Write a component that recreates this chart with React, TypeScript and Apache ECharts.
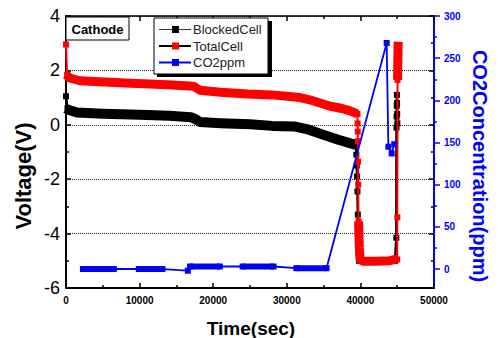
import React, { useEffect, useRef } from "react";
import * as echarts from "echarts";

const FONT = "Arial, 'Liberation Sans', Helvetica, sans-serif";
const BLUE = "#0000ff";
const RED = "#ff0000";
const BLACK = "#000000";

// Axis ranges
const timeMin = 0;
const timeMax = 50000;
const timeStep = 10000;
const voltMin = -6;
const voltMax = 4;
const voltStep = 2;
const co2Min = -22.5;
const co2Max = 300;
const co2MajorTicks = [0, 50, 100, 150, 200, 250, 300];
const co2MinorTicks = [25, 75, 125, 175, 225, 275];

// BlockedCell voltage (V) vs time (sec)
const blockedBandTime = [0, 300, 1500, 5000, 10000, 14000, 17000, 17600, 18200, 21000, 25000, 28000, 31000, 33000, 35000, 37000, 38500, 39400];
const blockedBandV = [0.6, 0.55, 0.45, 0.41, 0.37, 0.33, 0.28, 0.2, 0.1, 0.06, 0.02, -0.04, -0.06, -0.18, -0.37, -0.55, -0.67, -0.74];
const blockedStartTime = [0, 200];
const blockedStartV = [1.05, 0.6];
const blockedDropTime = [39400, 39450, 39500, 39550, 39600, 39650, 39700, 39750, 39800, 44700];
const blockedDropV = [-0.74, -1.1, -1.5, -1.9, -2.45, -3.3, -4.1, -4.7, -5.0, -5.0];
const blockedRiseTime = [44700, 44880, 44900, 44920, 44940, 44960, 44980, 45000, 45020];
const blockedRiseV = [-5.0, -4.15, -0.1, 0.3, 0.7, 1.1, 0.8, 0.4, 0.05];

// TotalCell voltage (V) vs time (sec)
const totalStartTime = [0, 150];
const totalStartV = [2.95, 1.84];
const totalBandTime = [0, 500, 1900, 4600, 8000, 11400, 14500, 17300, 18200, 21000, 24700, 28000, 31800, 33100, 35800, 37500, 38500, 39600];
const totalBandV = [1.84, 1.72, 1.62, 1.58, 1.54, 1.5, 1.46, 1.42, 1.27, 1.2, 1.13, 1.1, 1.0, 0.92, 0.69, 0.6, 0.52, 0.4];
const totalDropTime = [39600, 39620, 39640, 39660, 39680, 39700, 39750];
const totalDropV = [0.4, 0.05, -0.25, -0.6, -1.35, -2.2, -3.55];
const totalFloorTime = [39750, 39850, 39950, 40400, 42000, 44000, 44600, 45060];
const totalFloorV = [-3.55, -4.5, -4.95, -5.02, -5.02, -5.0, -4.95, -4.95];
const totalRiseTime = [45000, 45020, 45050];
const totalRiseV = [-4.95, -3.4, 1.65];
const totalPeakTime = [45050, 45080, 45120, 45150];
const totalPeakV = [1.65, 2.3, 2.9, 3.05];

// CO2 concentration (ppm) vs time (sec)
const co2Time = [2300, 6500, 9900, 13100, 16550, 16850, 20900, 24000, 28200, 31300, 35400, 43570, 43800, 44250, 44600];
const co2Ppm = [0, 0, 0, 0, -2, 3, 3, 3, 3, 1, 1, 268, 145, 137, 148];
const co2BandStart = [2300, 9900, 16850, 24000, 31300];
const co2BandEnd = [6500, 13100, 20900, 28200, 35400];
const co2BandPpm = [0, 0, 3, 3, 1];

// Legend entries
const legendNames = ["BlockedCell", "TotalCell", "CO2ppm"];
const legendLineColors = ["#333333", BLACK, BLUE];
const legendLineWidths = [1, 2, 2];
const legendMarkColors = [BLACK, RED, BLUE];

const zip = (ts: number[], vs: number[]) => ts.map((t, i) => [t, vs[i]]);
const joinGaps = (segs: (number | string)[][][]) =>
  segs.flatMap((s, i) => (i === 0 ? s : [[s[0][0], "-"], ...s]));

export default function App() {
  const ref = useRef<HTMLDivElement>(null);

  useEffect(() => {
    if (!ref.current) return;
    const chart = echarts.init(ref.current, undefined, { renderer: "svg" });

    const bandLine = (name: string, data: any[], color: string, width: number, z: number, yAxisIndex = 0) => ({
      name,
      type: "line",
      xAxisIndex: 0,
      yAxisIndex,
      z,
      data,
      symbol: "none",
      lineStyle: { color, width, join: "round" },
      silent: true,
    });
    const markLine = (name: string, data: any[], color: string, width: number, z: number, yAxisIndex = 0) => ({
      name,
      type: "line",
      xAxisIndex: 0,
      yAxisIndex,
      z,
      data,
      symbol: "rect",
      symbolSize: 6,
      showSymbol: true,
      itemStyle: { color },
      lineStyle: { color, width },
      silent: true,
    });

    const co2BandData = joinGaps(
      co2BandStart.map((s, i) => [
        [s, co2BandPpm[i]],
        [co2BandEnd[i], co2BandPpm[i]],
      ])
    );

    const axisFont = { fontFamily: FONT };
    const tickStyle = { color: BLACK, width: 1.5 };

    const legendGraphics: any[] = [];
    const rowY = [29.5, 46, 62.5];
    legendNames.forEach((n, i) => {
      legendGraphics.push({
        type: "line",
        z: 101,
        shape: { x1: 159, y1: rowY[i], x2: 191, y2: rowY[i] },
        style: { stroke: legendLineColors[i], lineWidth: legendLineWidths[i] },
      });
      legendGraphics.push({
        type: "rect",
        z: 102,
        shape: { x: 172, y: rowY[i] - 3.5, width: 7, height: 7 },
        style: { fill: legendMarkColors[i] },
      });
      legendGraphics.push({
        type: "text",
        z: 102,
        x: 193,
        y: rowY[i],
        style: {
          text: n,
          fill: "#222222",
          fontSize: 13,
          fontFamily: FONT,
          textAlign: "left",
          textVerticalAlign: "middle",
          align: "left",
          verticalAlign: "middle",
        },
      });
    });

    const option: any = {
      animation: false,
      backgroundColor: "#ffffff",
      grid: {
        left: 66,
        right: 68,
        top: 16,
        bottom: 50,
        containLabel: false,
        outerBoundsMode: "none",
      },
      xAxis: [
        {
          type: "value",
          position: "bottom",
          min: timeMin,
          max: timeMax,
          interval: timeStep,
          axisLine: { onZero: false, lineStyle: { color: BLACK, width: 2 } },
          axisTick: { inside: true, length: 5, lineStyle: tickStyle },
          minorTick: { show: true, splitNumber: 2, length: 3, lineStyle: tickStyle },
          axisLabel: {
            ...axisFont,
            fontSize: 10,
            fontWeight: "bold",
            color: BLACK,
            margin: 7,
            formatter: (v: number) => String(v),
          },
          splitLine: { show: false },
        },
        {
          type: "value",
          position: "top",
          min: timeMin,
          max: timeMax,
          interval: timeStep,
          axisLine: { onZero: false, lineStyle: { color: BLACK, width: 1.5 } },
          axisTick: { inside: true, length: 5, lineStyle: tickStyle },
          minorTick: { show: true, splitNumber: 2, length: 3, lineStyle: tickStyle },
          axisLabel: { show: false },
          splitLine: { show: false },
        },
      ],
      yAxis: [
        {
          type: "value",
          position: "left",
          min: voltMin,
          max: voltMax,
          interval: voltStep,
          axisLine: { show: true, onZero: false, lineStyle: { color: BLACK, width: 2 } },
          axisTick: { inside: true, length: 5, lineStyle: tickStyle },
          minorTick: { show: true, splitNumber: 2, length: 3, lineStyle: tickStyle },
          axisLabel: { ...axisFont, fontSize: 18, color: BLACK, margin: 6 },
          splitLine: { show: true, lineStyle: { type: "dotted", color: "#222222", width: 1 } },
        },
        {
          type: "value",
          position: "right",
          min: voltMin,
          max: voltMax,
          interval: voltStep,
          axisLine: { show: false, onZero: false },
          axisTick: { inside: true, length: 5, lineStyle: tickStyle },
          minorTick: { show: true, splitNumber: 2, length: 3, lineStyle: tickStyle },
          axisLabel: { show: false },
          splitLine: { show: false },
        },
        {
          type: "value",
          position: "right",
          min: co2Min,
          max: co2Max,
          axisLine: { show: true, onZero: false, lineStyle: { color: BLUE, width: 2 } },
          axisTick: {
            show: true,
            inside: false,
            length: 6,
            customValues: co2MajorTicks,
            lineStyle: { color: BLUE, width: 1.5 },
          },
          axisLabel: {
            ...axisFont,
            customValues: co2MajorTicks,
            fontSize: 10,
            fontWeight: "bold",
            color: BLUE,
            margin: 10,
          },
          splitLine: { show: false },
        },
        {
          type: "value",
          position: "right",
          min: co2Min,
          max: co2Max,
          axisLine: { show: false, onZero: false },
          axisTick: {
            show: true,
            inside: false,
            length: 3,
            customValues: co2MinorTicks,
            lineStyle: { color: BLUE, width: 1.5 },
          },
          axisLabel: { show: false },
          splitLine: { show: false },
        },
      ],
      series: [
        bandLine("BlockedCell", zip(blockedBandTime, blockedBandV), BLACK, 10, 2),
        markLine(
          "BlockedCell",
          joinGaps([
            zip(blockedStartTime, blockedStartV),
            zip(blockedDropTime, blockedDropV),
            zip(blockedRiseTime, blockedRiseV),
          ]),
          BLACK,
          2.5,
          3
        ),
        bandLine(
          "TotalCell",
          joinGaps([
            zip(totalBandTime, totalBandV),
            zip(totalFloorTime, totalFloorV),
            zip(totalPeakTime, totalPeakV),
          ]),
          RED,
          9,
          4
        ),
        markLine(
          "TotalCell",
          joinGaps([
            zip(totalStartTime, totalStartV),
            zip(totalDropTime, totalDropV),
            zip(totalRiseTime, totalRiseV),
          ]),
          RED,
          2,
          5
        ),
        bandLine("CO2ppm", co2BandData, BLUE, 6, 6, 2),
        markLine("CO2ppm", zip(co2Time, co2Ppm), BLUE, 1.8, 7, 2),
      ],
      graphic: [
        // sample label box
        {
          type: "rect",
          z: 100,
          shape: { x: 66, y: 17, width: 63, height: 23 },
          style: { fill: "#ffffff", stroke: BLACK, lineWidth: 1 },
        },
        {
          type: "text",
          z: 101,
          x: 97.5,
          y: 29,
          style: {
            text: "Cathode",
            fill: BLACK,
            fontSize: 13,
            fontWeight: "bold",
            fontFamily: FONT,
            textAlign: "center",
            textVerticalAlign: "middle",
            align: "center",
            verticalAlign: "middle",
          },
        },
        // legend frame with drop shadow
        {
          type: "rect",
          z: 99,
          shape: { x: 157, y: 21, width: 115, height: 56 },
          style: { fill: BLACK },
        },
        {
          type: "rect",
          z: 100,
          shape: { x: 154, y: 18, width: 114, height: 56 },
          style: { fill: "#ffffff", stroke: BLACK, lineWidth: 1 },
        },
        ...legendGraphics,
        // axis titles
        {
          type: "text",
          z: 100,
          x: 23,
          y: 176,
          rotation: Math.PI / 2,
          style: {
            text: "Voltage(V)",
            fill: BLACK,
            fontSize: 22,
            fontWeight: "bold",
            fontFamily: FONT,
            textAlign: "center",
            textVerticalAlign: "middle",
            align: "center",
            verticalAlign: "middle",
          },
        },
        {
          type: "text",
          z: 100,
          x: 251,
          y: 328,
          style: {
            text: "Time(sec)",
            fill: BLACK,
            fontSize: 19,
            fontWeight: "bold",
            fontFamily: FONT,
            textAlign: "center",
            textVerticalAlign: "middle",
            align: "center",
            verticalAlign: "middle",
          },
        },
        {
          type: "text",
          z: 100,
          x: 480,
          y: 166,
          rotation: -Math.PI / 2,
          style: {
            text: "CO2Concentration(ppm)",
            fill: BLUE,
            fontSize: 20,
            fontWeight: "bold",
            fontFamily: FONT,
            textAlign: "center",
            textVerticalAlign: "middle",
            align: "center",
            verticalAlign: "middle",
          },
        },
      ],
    };

    chart.setOption(option);
    return () => chart.dispose();
  }, []);

  return (
    <div
      ref={ref}
      style={{ position: "absolute", left: 0, top: 0, width: 502, height: 338, background: "#fff" }}
    />
  );
}
